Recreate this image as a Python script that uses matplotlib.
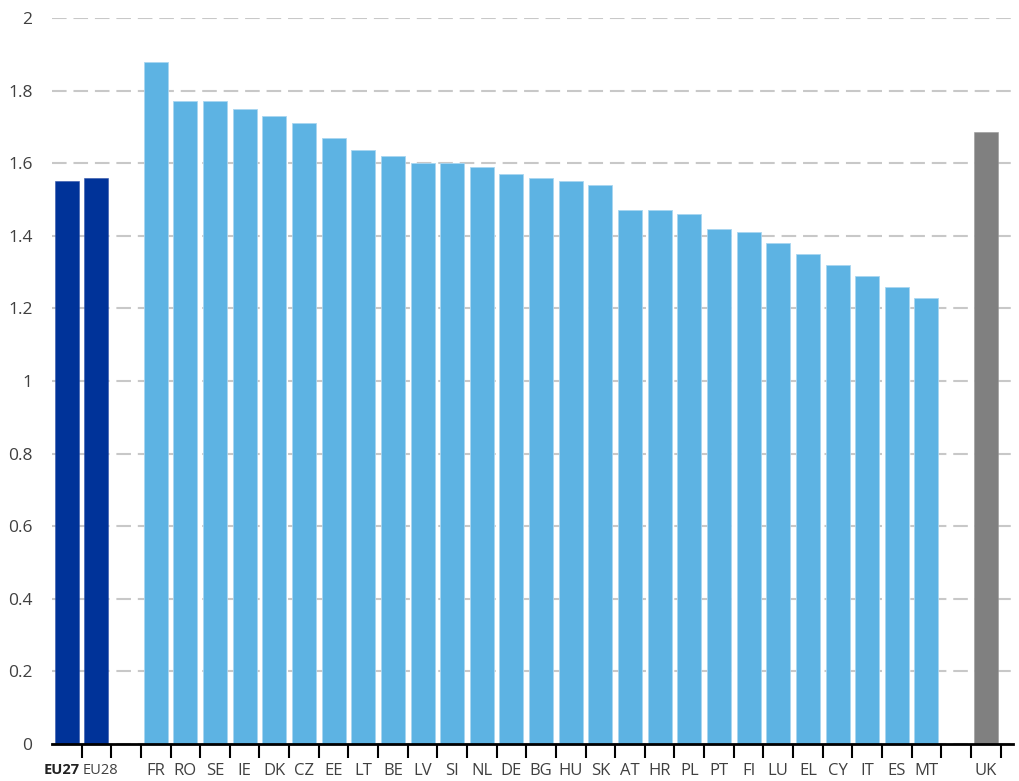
import matplotlib
matplotlib.use("Agg")
import matplotlib.pyplot as plt
import matplotlib.transforms as mtransforms
import numpy as np

# ---- data ----
eu_labels = ["EU27", "EU28"]
eu_values = [1.55, 1.56]

country_labels = ["FR", "RO", "SE", "IE", "DK", "CZ", "EE", "LT", "BE", "LV", "SI",
                  "NL", "DE", "BG", "HU", "SK", "AT", "HR", "PL", "PT", "FI", "LU",
                  "EL", "CY", "IT", "ES", "MT"]
country_values = [1.88, 1.77, 1.77, 1.75, 1.73, 1.71, 1.67, 1.635, 1.62, 1.60, 1.60,
                  1.59, 1.57, 1.56, 1.55, 1.54, 1.47, 1.47, 1.46, 1.42, 1.41, 1.38,
                  1.35, 1.32, 1.29, 1.26, 1.23]

other_labels = ["UK"]
other_values = [1.685]

yticks = [0, 0.2, 0.4, 0.6, 0.8, 1, 1.2, 1.4, 1.6, 1.8, 2]
ytick_labels = ["0", "0.2", "0.4", "0.6", "0.8", "1", "1.2", "1.4", "1.6", "1.8", "2"]

# ---- style ----
c_eu = "#003399"
c_country = "#5db3e3"
c_other = "#808080"
txt = "#404040"

plt.rcParams['font.family'] = ['Open Sans', 'DejaVu Sans']

fig = plt.figure(figsize=(10.2, 7.81), dpi=100)
ax = fig.add_axes([52/1020, 1 - 744/781, (1013 - 52)/1020, (744 - 18)/781])

# positions: EU group, one empty slot, countries, one empty slot, UK
x_eu = np.arange(len(eu_labels))
x_c = np.arange(len(country_labels)) + len(eu_labels) + 1
x_o = np.arange(len(other_labels)) + x_c[-1] + 2

w = 0.81
ax.bar(x_eu, eu_values, width=w, color=c_eu, edgecolor="#3355aa", linewidth=0.4, zorder=3)
ax.bar(x_c, country_values, width=w, color=c_country, edgecolor="#a9d6f1", linewidth=0.6, zorder=3)
ax.bar(x_o, other_values, width=w, color=c_other, edgecolor="#999999", linewidth=0.4, zorder=3)

ax.set_ylim(0, 2)
ax.set_xlim(-0.5, x_o[-1] + 0.92)

ax.set_yticks(yticks)
ax.set_yticklabels(ytick_labels)
ax.tick_params(axis='y', length=0, pad=14, labelsize=12.5, labelcolor=txt)

# x ticks: major marks at boundaries, labels at centers (minor)
n_slots = int(x_o[-1]) + 1
ax.set_xticks(np.arange(0.5, n_slots, 1.0))
ax.set_xticklabels([])
ax.tick_params(axis='x', which='major', length=10, width=1.5, color="black", direction='out')
centers = list(x_eu) + list(x_c) + list(x_o)
labels = eu_labels + country_labels + other_labels
ax.set_xticks(centers, minor=True)
ax.set_xticklabels(labels, minor=True)
ax.tick_params(axis='x', which='minor', length=0, pad=14, labelsize=12, labelcolor=txt)
for t in ax.get_xticklabels(minor=True):
    if t.get_text() == "EU27":
        t.set_fontweight("bold")
        t.set_color("#222222")
        t.set_fontsize(10.5)
        t.set_transform(t.get_transform() + mtransforms.ScaledTranslation(-5/100, 0, fig.dpi_scale_trans))
    elif t.get_text() == "EU28":
        t.set_fontsize(10.5)
        t.set_transform(t.get_transform() + mtransforms.ScaledTranslation(4/100, 0, fig.dpi_scale_trans))

for s in ["left", "right", "top"]:
    ax.spines[s].set_visible(False)
ax.spines["bottom"].set_linewidth(2.0)
ax.spines["bottom"].set_color("black")
ax.spines["bottom"].set_zorder(4)

ax.yaxis.grid(True, color="#c8c8c8", linewidth=1.5, linestyle=(0, (7, 3.3)), zorder=0)
ax.xaxis.grid(False)
ax.set_axisbelow(True)

fig.savefig("out.png", dpi=100)
